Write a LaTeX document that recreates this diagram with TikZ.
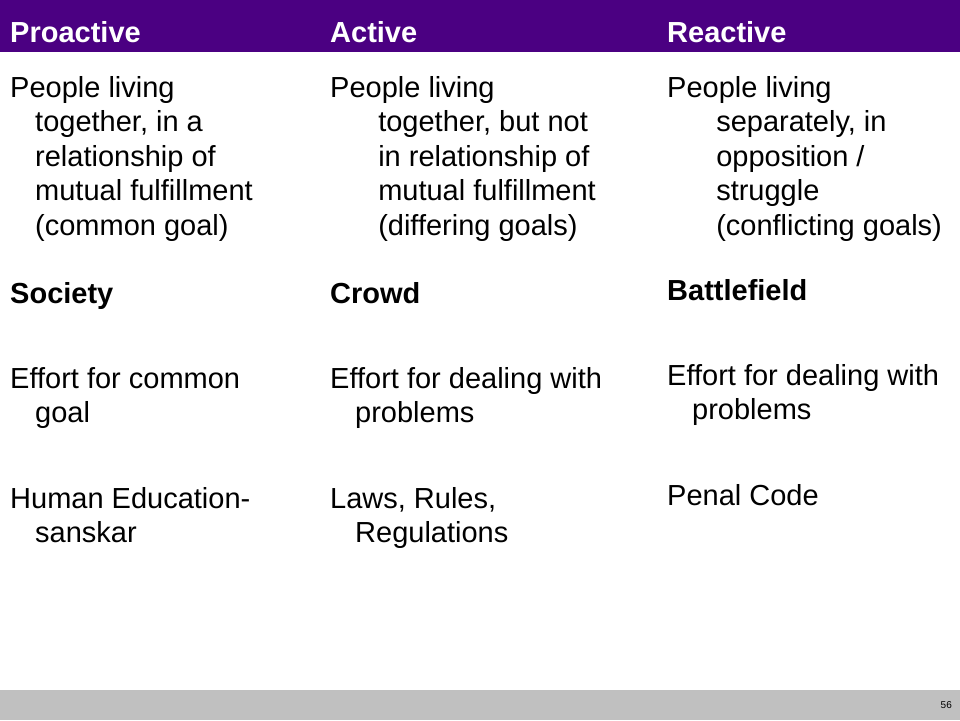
\documentclass[tikz,border=0pt]{standalone}
\usepackage{fontspec}
\setmainfont{Liberation Sans}
\definecolor{headpurple}{RGB}{75,0,130}
\definecolor{footgray}{RGB}{192,192,192}
\newcommand{\ind}[1][25]{\hspace*{#1pt}}

\begin{document}
\begin{tikzpicture}[x=1pt,y=-1pt,
    txt/.style={anchor=base west,inner sep=0pt,align=left,
        font={\fontsize{29}{34.5}\selectfont}},
    head/.style={txt,text=white,font={\bfseries\fontsize{29}{34.5}\selectfont}},
    bold/.style={txt,font={\bfseries\fontsize{29}{34.5}\selectfont}}]
    \pgfmathsetmacro{\ca}{10}
    \pgfmathsetmacro{\cb}{330}
    \pgfmathsetmacro{\cc}{667}
    \pgfmathsetmacro{\lh}{34.5}
    \pgfmathsetmacro{\rh}{-3}
    \useasboundingbox (0,0) rectangle (960,720);
    % Draw the bars
    \fill [headpurple] (0,0) rectangle (960,52);
    \fill [footgray] (0,690) rectangle (960,720);
    \node [anchor=base east,inner sep=0pt,font={\fontsize{10}{12}\selectfont}]
        (page) at (952,708) {56};

    % Headings
    \node [head] (proH) at (\ca,42) {Proactive};
    \node [head] (actH) at (\cb,42) {Active};
    \node [head] (reaH) at (\cc,42) {Reactive};

    % Proactive column (anchor is the baseline of the last line)
    \node [txt] (proA) at (\ca,{97+4*\lh}) {People living\\\ind together, in a\\\ind relationship of\\\ind mutual fulfillment\\\ind (common goal)};
    \node [bold] (proB) at (\ca,303) {Society};
    \node [txt] (proC) at (\ca,{388+\lh}) {Effort for common\\\ind goal};
    \node [txt] (proD) at (\ca,{508+\lh}) {Human Education-\\\ind sanskar};

    % Active column
    \node [txt] (actA) at (\cb,{97+4*\lh}) {People living\\\ind[40] together, but not\\\ind[40] in relationship of\\\ind[40] mutual fulfillment\\\ind[40] (differing goals)};
    \node [bold] (actB) at (\cb,303) {Crowd};
    \node [txt] (actC) at (\cb,{388+\lh}) {Effort for dealing with\\\ind problems};
    \node [txt] (actD) at (\cb,{508+\lh}) {Laws, Rules,\\\ind Regulations};

    % Reactive column
    \node [txt] (reaA) at (\cc,{97+4*\lh}) {People living\\\ind[41] separately, in\\\ind[41] opposition /\\\ind[41] struggle\\\ind[41] (conflicting goals)};
    \node [bold] (reaB) at (\cc,303+\rh) {Battlefield};
    \node [txt] (reaC) at (\cc,{388+\lh+\rh}) {Effort for dealing with\\\ind problems};
    \node [txt] (reaD) at (\cc,508+\rh) {Penal Code};
\end{tikzpicture}
\end{document}
